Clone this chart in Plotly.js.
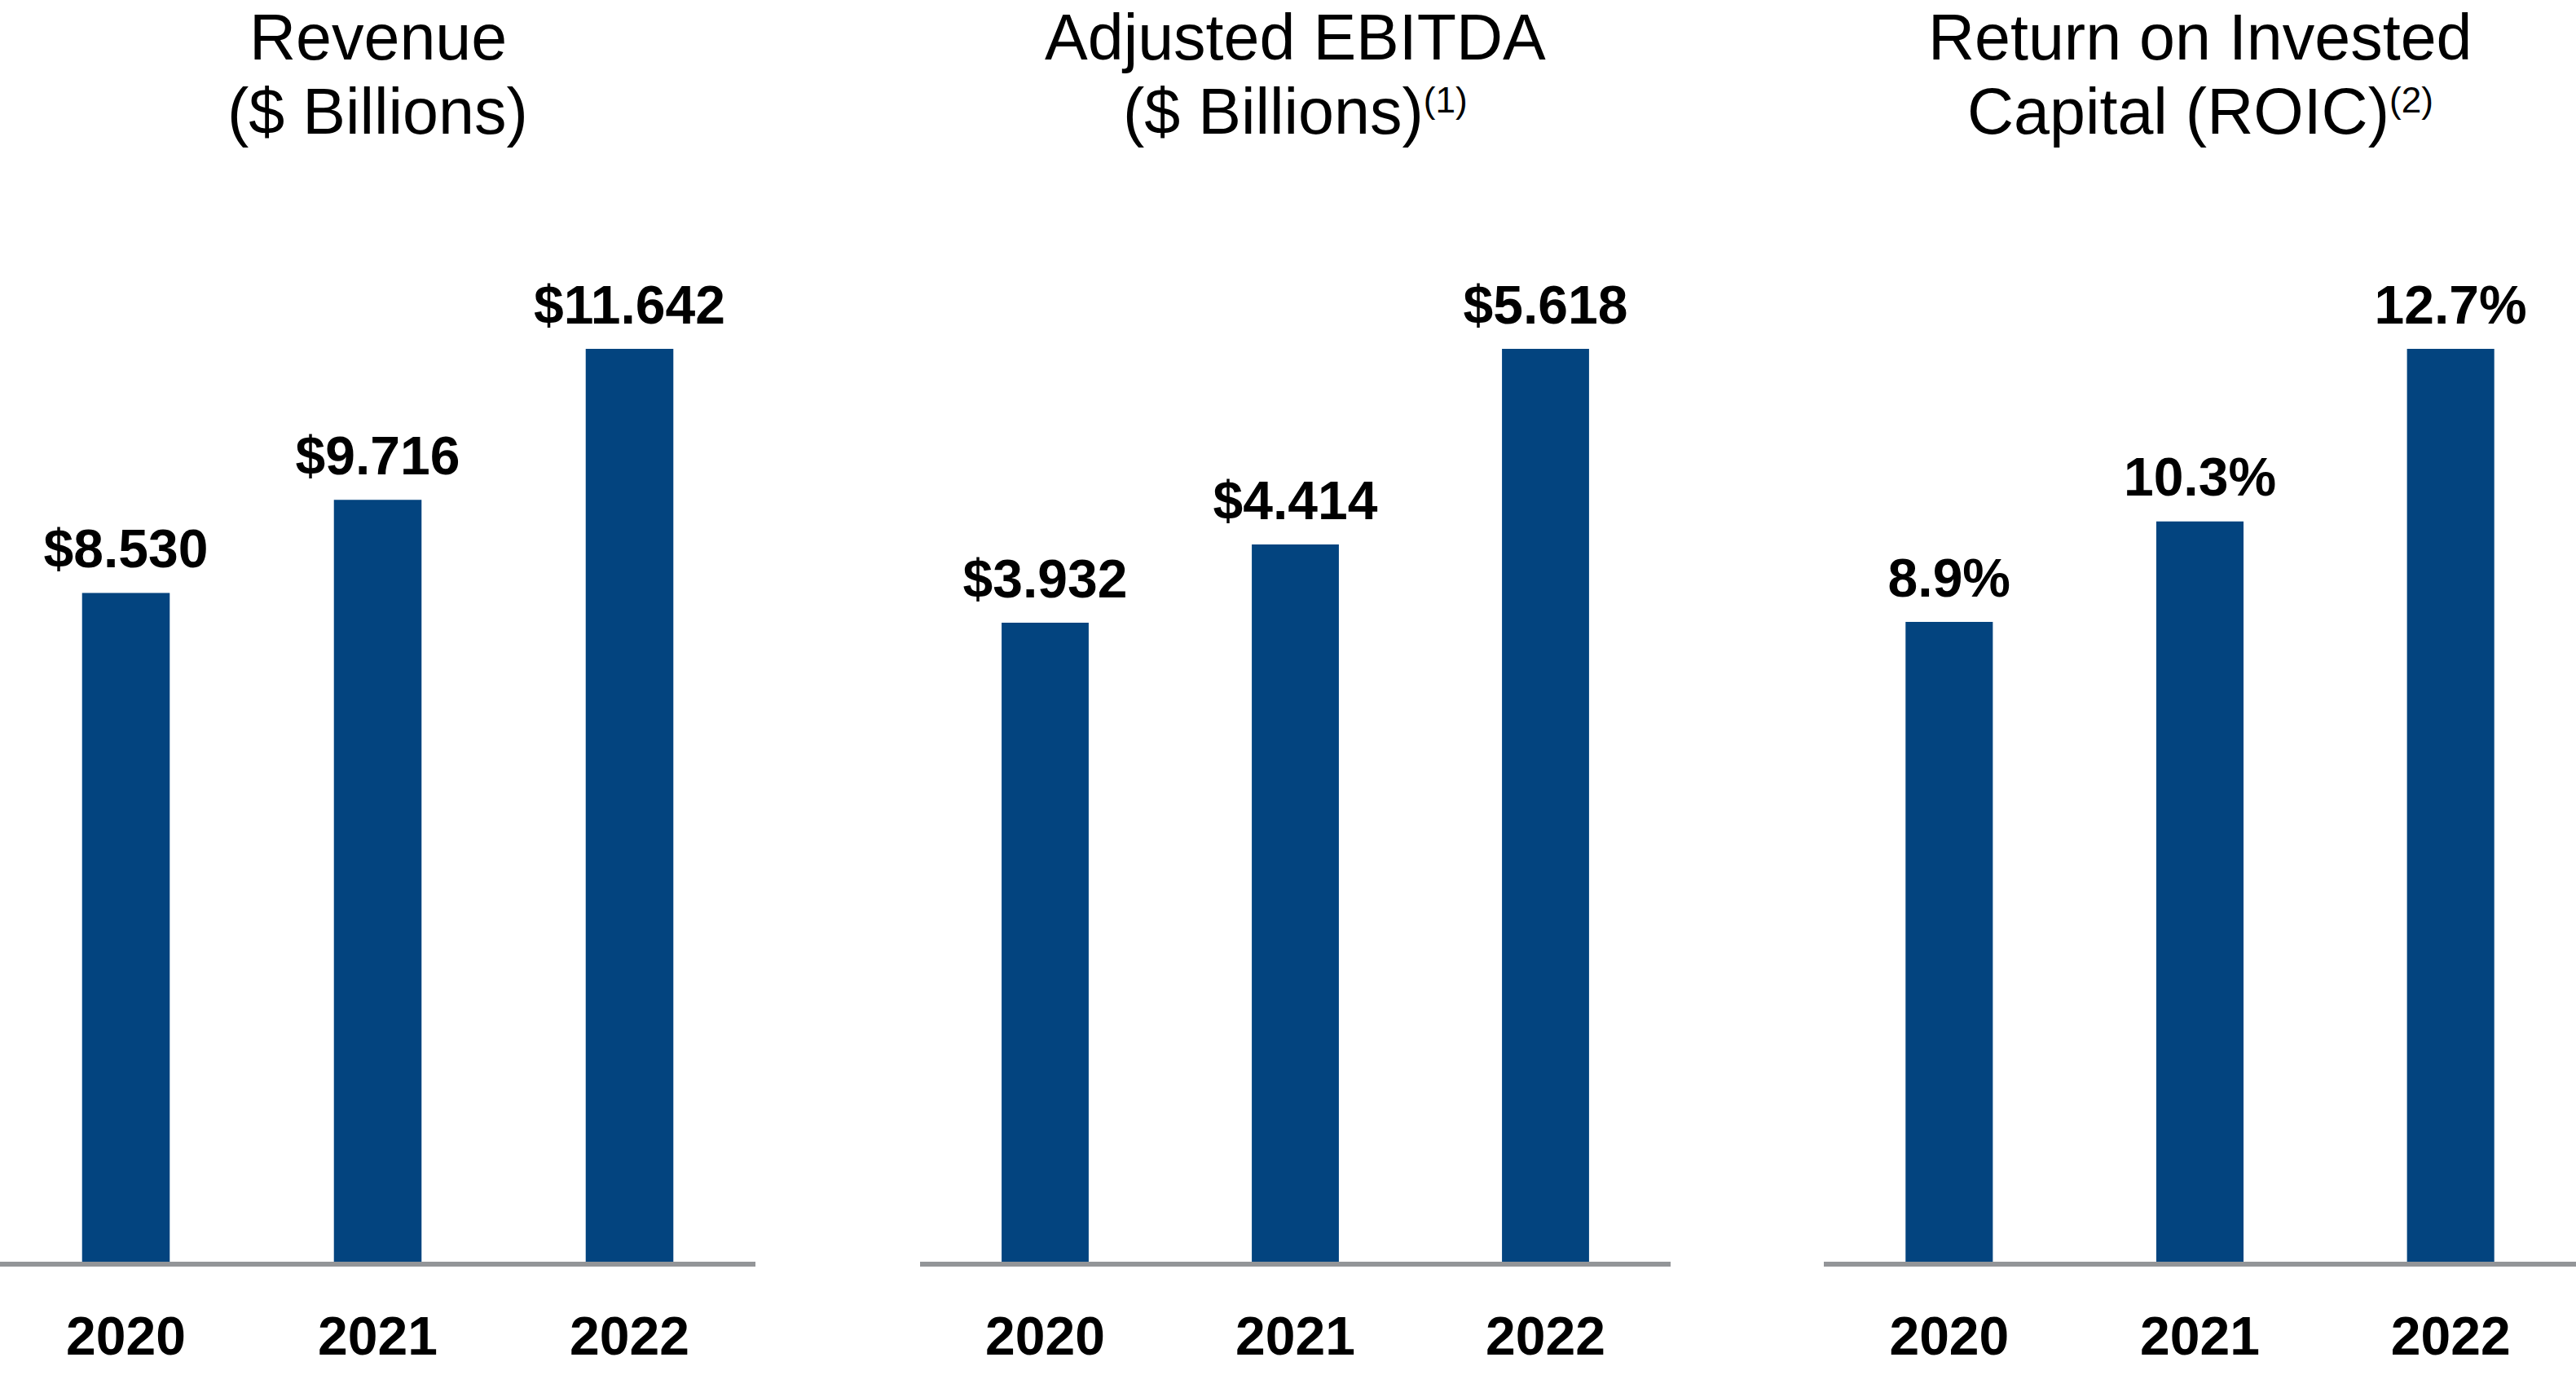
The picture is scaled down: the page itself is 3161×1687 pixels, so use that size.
<!DOCTYPE html>
<html>
<head>
<meta charset="utf-8">
<script src="https://cdn.plot.ly/plotly-3.0.1.min.js"></script>
<style>html,body{margin:0;padding:0;background:#fff;}#chart{width:3161px;height:1687px;}</style>
</head>
<body>
<div id="chart"></div>
<script>
// ---- data ----
const years = ['2020', '2021', '2022'];
const revenue = [8.530, 9.716, 11.642];
const ebitda = [3.932, 4.414, 5.618];
const roic = [8.9, 10.3, 12.7];

const titleLine1 = ['Revenue', 'Adjusted EBITDA', 'Return on Invested'];
const titleLine2 = ['($ Billions)', '($ Billions)', 'Capital (ROIC)'];
const titleNotes = ['', '(1)', '(2)'];

// ---- styling ----
const BAR_COLOR = '#03447f';
const AXIS_COLOR = '#939598';
const FONT = '"Liberation Sans", Arial, Helvetica, sans-serif';
const W = 3161, H = 1687;
const PLOT_TOP = 300, PLOT_BOTTOM = 1548, BAR_TOP = 428;
const headroom = (PLOT_BOTTOM - PLOT_TOP) / (PLOT_BOTTOM - BAR_TOP);

const xDomains = [[0, 927 / W], [1129 / W, 2050 / W], [2238 / W, 1]];
const yDomain = [(H - PLOT_BOTTOM) / H, (H - PLOT_TOP) / H];

const series = [
  {values: revenue, tmpl: '<b>$%{y:.3f}</b>'},
  {values: ebitda, tmpl: '<b>$%{y:.3f}</b>'},
  {values: roic, tmpl: '<b>%{y:.1f}%</b>'}
];

const traces = [];
const annotations = [];
const layout = {
  width: W, height: H,
  margin: {l: 0, r: 0, t: 0, b: 0, pad: 0},
  paper_bgcolor: '#ffffff', plot_bgcolor: '#ffffff',
  showlegend: false,
  bargap: 0.652,
  font: {family: FONT, color: '#000000'},
  annotations: annotations
};

series.forEach((s, i) => {
  const n = i === 0 ? '' : String(i + 1);
  traces.push({
    type: 'bar', x: years, y: s.values,
    xaxis: 'x' + n, yaxis: 'y' + n,
    marker: {color: BAR_COLOR, line: {width: 0}},
    hoverinfo: 'skip'
  });
  // value labels above bars
  traces.push({
    type: 'scatter', mode: 'markers+text', x: years, y: s.values,
    xaxis: 'x' + n, yaxis: 'y' + n,
    marker: {size: 22, opacity: 0, color: BAR_COLOR},
    texttemplate: s.tmpl, textposition: 'top center',
    textfont: {family: FONT, size: 66, color: '#000000'},
    cliponaxis: false, hoverinfo: 'skip'
  });
  layout['xaxis' + n] = {
    domain: xDomains[i], anchor: 'y' + n, type: 'category',
    range: [-0.5, 2.5], fixedrange: true,
    showline: true, linecolor: AXIS_COLOR, linewidth: 6,
    showgrid: false, zeroline: false, ticks: '',
    ticklabelstandoff: 29,
    tickfont: {family: FONT, size: 66, color: '#000000', weight: 'bold'}
  };
  layout['yaxis' + n] = {
    domain: yDomain, anchor: 'x' + n,
    range: [0, Math.max(...s.values) * headroom],
    visible: false, showgrid: false, zeroline: false, fixedrange: true
  };
  const cx = (xDomains[i][0] + xDomains[i][1]) / 2;
  annotations.push({
    xref: 'paper', yref: 'paper', x: cx, y: 1 - 45 / H,
    text: titleLine1[i], showarrow: false, xanchor: 'center', yanchor: 'middle',
    borderpad: 0,
    font: {family: FONT, size: 79, color: '#000000'}
  });
  const note = titleNotes[i] ? '<span style="font-size:63px"><sup>' + titleNotes[i] + '</sup></span>' : '';
  annotations.push({
    xref: 'paper', yref: 'paper', x: cx, y: 1 - 136 / H,
    text: titleLine2[i] + note, showarrow: false, xanchor: 'center', yanchor: 'middle',
    borderpad: 0,
    font: {family: FONT, size: 79, color: '#000000'}
  });
});

Plotly.newPlot('chart', traces, layout, {staticPlot: true, displayModeBar: false});
</script>
</body>
</html>
